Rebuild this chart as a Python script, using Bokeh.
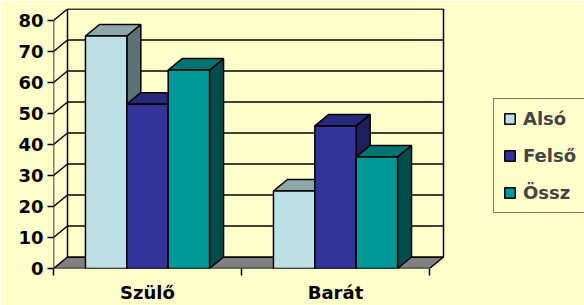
from bokeh.plotting import figure
from bokeh.models import Range1d, FixedTicker, Legend, LegendItem
from bokeh.embed import file_html
from bokeh.resources import INLINE

# ---- data ----
categories = ["Szülő", "Barát"]
series = ["Alsó", "Felső", "Össz"]
also = [75, 25]
felso = [53, 46]
ossz = [64, 36]
y_ticks = [0, 10, 20, 30, 40, 50, 60, 70, 80]

values = [also, felso, ossz]

# ---- style ----
BG = "#FFFFCC"
front_colors = ["#BDE0E6", "#333399", "#009999"]
top_colors = ["#8FA7AB", "#29297A", "#007373"]
side_colors = ["#5E7172", "#1F1F5C", "#004D4D"]
FLOOR = "#808080"
FONT = "DejaVu Sans"
LW = 1.5

W, H = 584, 305
left_b, top_b, bottom_b = 53, 8, 37
frame_w = W - left_b
frame_h = H - bottom_b - top_b
px_per_cat = 188.0
px_per_unit = 3.1
x_end = frame_w / px_per_cat
y_end = frame_h / px_per_unit
dx = 14 / px_per_cat
dy = 11.5 / px_per_unit
ymax = y_ticks[-1]
ncat = len(categories)
bar_w = 0.22

p = figure(width=W, height=H, output_backend="svg", toolbar_location=None,
           x_range=Range1d(0, x_end), y_range=Range1d(0, y_end),
           min_border_left=left_b, min_border_right=0, min_border_top=top_b,
           min_border_bottom=bottom_b)
p.background_fill_color = BG
p.border_fill_color = BG
p.outline_line_color = None
p.grid.visible = False

# floor
p.patch([0, ncat, ncat + dx, dx], [0, 0, dy, dy], fill_color=FLOOR,
        line_color="black", line_width=LW)
# back wall
p.quad(left=[dx], right=[ncat + dx], bottom=[dy], top=[ymax + dy],
       fill_color=BG, line_color="black", line_width=LW)
# back wall gridlines
for v in y_ticks[1:-1]:
    p.segment(x0=[dx], y0=[v + dy], x1=[ncat + dx], y1=[v + dy],
              line_color="black", line_width=LW)
# side wall gridlines
for v in y_ticks[1:]:
    p.segment(x0=[0], y0=[v], x1=[dx], y1=[v + dy],
              line_color="black", line_width=LW)
# front axis line
p.segment(x0=[0], y0=[0], x1=[0], y1=[ymax], line_color="black", line_width=LW)

front_renderers = []
for i, vals in enumerate(values):
    off = (i - 1) * bar_w
    lefts = [c + 0.5 + off - bar_w / 2 for c in range(ncat)]
    rights = [l + bar_w for l in lefts]
    side_xs = [[r, r + dx, r + dx, r] for r in rights]
    side_ys = [[0, dy, v + dy, v] for v in vals]
    top_xs = [[l, r, r + dx, l + dx] for l, r in zip(lefts, rights)]
    top_ys = [[v, v, v + dy, v + dy] for v in vals]
    p.patches(side_xs, side_ys, fill_color=side_colors[i], line_color="black", line_width=LW)
    p.patches(top_xs, top_ys, fill_color=top_colors[i], line_color="black", line_width=LW)
    r = p.quad(left=lefts, right=rights, bottom=[0] * ncat, top=vals,
               fill_color=front_colors[i], line_color="black", line_width=LW)
    front_renderers.append(r)

# y axis
ya = p.yaxis[0]
ya.ticker = FixedTicker(ticks=y_ticks)
ya.axis_line_color = None
ya.major_tick_out = 6
ya.major_tick_in = 0
ya.major_tick_line_width = LW
ya.minor_tick_line_color = None
ya.major_label_standoff = 4
ya.major_label_text_font = FONT
ya.major_label_text_font_style = "bold"
ya.major_label_text_font_size = "18px"
ya.major_label_text_color = "black"

# x axis
xa = p.xaxis[0]
xa.ticker = FixedTicker(ticks=[c + 0.5 for c in range(ncat)],
                        minor_ticks=list(range(ncat + 1)))
xa.axis_line_color = None
xa.major_tick_out = 0
xa.major_tick_in = 0
xa.major_tick_line_color = None
xa.minor_tick_out = 7
xa.minor_tick_in = 0
xa.minor_tick_line_color = "black"
xa.minor_tick_line_width = LW
xa.major_label_overrides = {c + 0.5: name for c, name in enumerate(categories)}
xa.major_label_standoff = 6
xa.major_label_text_font = FONT
xa.major_label_text_font_style = "bold"
xa.major_label_text_font_size = "18px"
xa.major_label_text_color = "black"

legend = Legend(items=[LegendItem(label=s, renderers=[front_renderers[i]])
                       for i, s in enumerate(series)],
                location=(440, 55))
legend.border_line_color = "black"
legend.border_line_width = 1.5
legend.background_fill_color = BG
legend.background_fill_alpha = 1
legend.label_text_font = FONT
legend.label_text_font_style = "bold"
legend.label_text_font_size = "18px"
legend.glyph_width = 13
legend.glyph_height = 13
legend.label_standoff = 7
legend.padding = 9
legend.spacing = 16
legend.margin = 0
legend.label_height = 21
p.add_layout(legend, "center")

open("out.html", "w").write(file_html(p, INLINE))
